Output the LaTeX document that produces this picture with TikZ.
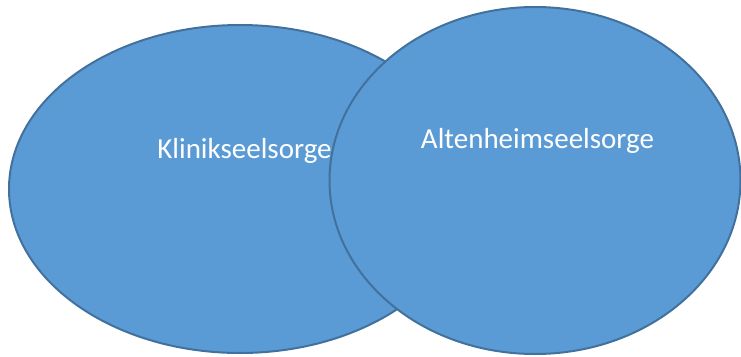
\documentclass[tikz,border=0pt]{standalone}
\usepackage{fontspec}
\setmainfont{Carlito}
\usetikzlibrary{shapes.geometric}
\definecolor{fillblue}{HTML}{5B9BD5}
\definecolor{edgeblue}{HTML}{41719C}
\tikzset{
  blob/.style={ellipse, draw=edgeblue, fill=fillblue, line width=2pt, inner sep=0pt},
  lbl/.style={text=white, font=\fontsize{29}{34}\selectfont, anchor=base, inner sep=0pt}
}
\begin{document}
\begin{tikzpicture}[x=1pt,y=-1pt]
\useasboundingbox (0,0) rectangle (741,356);
\node[blob, minimum width=462pt, minimum height=328pt] (kl) at (240,189) {};
\node[lbl] (klt) at (244.5,158) {Klinikseelsorge};
\node[blob, minimum width=411pt, minimum height=347pt] (al) at (535,180.5) {};
\node[lbl] (alt) at (537.5,148) {Altenheimseelsorge};
\end{tikzpicture}
\end{document}
